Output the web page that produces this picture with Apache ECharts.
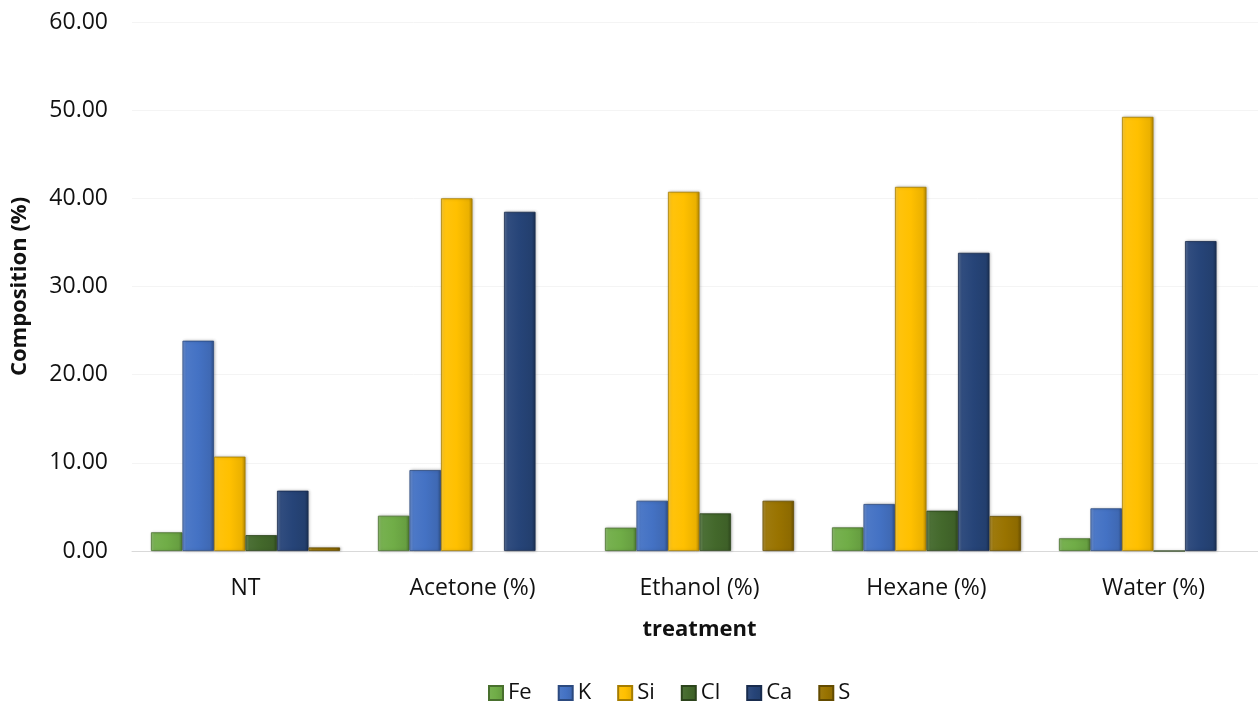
<!DOCTYPE html>
<html>
<head>
<meta charset="utf-8">
<script src="https://cdn.jsdelivr.net/npm/echarts@6/dist/echarts.min.js"></script>
<style>
  html, body { margin: 0; padding: 0; background: #fff; overflow: hidden; }
  #chart { width: 1258px; height: 702px; }
</style>
</head>
<body>
<div id="chart"></div>
<script>
// Elemental composition per treatment
const categories = ['NT', 'Acetone (%)', 'Ethanol (%)', 'Hexane (%)', 'Water (%)'];
const elements = ['Fe', 'K', 'Si', 'Cl', 'Ca', 'S'];

const fe = [2.12, 4.00, 2.64, 2.68, 1.44];
const k  = [23.85, 9.18, 5.70, 5.33, 4.84];
const si = [10.70, 40.00, 40.74, 41.30, 49.24];
const cl = [1.80, null, 4.27, 4.57, 0];
const ca = [6.84, 38.47, null, 33.82, 35.15];
const s  = [0.40, null, 5.70, 3.97, null];

const yTicks = { min: 0, max: 60, interval: 10 };

const seriesValues = [fe, k, si, cl, ca, s];
const baseColors = ['#70AD47', '#4472C4', '#FFC000', '#43682B', '#264478', '#997300'];

function shade(hex, amt) {
  const n = parseInt(hex.slice(1), 16);
  let r = (n >> 16) & 255, g = (n >> 8) & 255, b = n & 255;
  const f = c => Math.max(0, Math.min(255, Math.round(amt >= 0 ? c + (255 - c) * amt : c * (1 + amt))));
  return 'rgb(' + f(r) + ',' + f(g) + ',' + f(b) + ')';
}

// bevelled bar fill: lighter left edge, darker right edge
function bevel(hex) {
  return new echarts.graphic.LinearGradient(0, 0, 1, 0, [
    { offset: 0, color: shade(hex, 0.25) },
    { offset: 0.12, color: shade(hex, 0.05) },
    { offset: 0.5, color: hex },
    { offset: 0.88, color: shade(hex, -0.08) },
    { offset: 1, color: shade(hex, -0.3) }
  ]);
}

const FONT = '"Open Sans", "Liberation Sans", sans-serif';

const chart = echarts.init(document.getElementById('chart'));
chart.setOption({
  animation: false,
  backgroundColor: '#ffffff',
  textStyle: { fontFamily: FONT },
  // plot area runs slightly past the right edge of the canvas
  grid: { left: 132, width: 1135, top: 22, bottom: 151, containLabel: false, outerBoundsMode: 'none' },
  legend: {
    left: 483,
    top: 677,
    itemWidth: 14,
    itemHeight: 14,
    itemGap: 26,
    icon: 'rect',
    textStyle: { fontFamily: FONT, fontSize: 22, color: '#111' },
    data: elements.map((name, i) => ({ name: name, itemStyle: { color: bevel(baseColors[i]) } }))
  },
  xAxis: {
    type: 'category',
    data: categories,
    name: 'treatment',
    nameLocation: 'middle',
    nameGap: 68,
    nameTextStyle: { fontFamily: FONT, fontSize: 22, fontWeight: 'bold', color: '#111' },
    axisLine: { show: true, lineStyle: { color: '#d9d9d9', width: 1 } },
    axisTick: { show: false },
    axisLabel: { fontFamily: FONT, fontSize: 23, color: '#111', margin: 26 },
    splitLine: { show: false }
  },
  yAxis: {
    type: 'value',
    min: yTicks.min,
    max: yTicks.max,
    interval: yTicks.interval,
    name: 'Composition (%)',
    nameLocation: 'middle',
    nameGap: 101,
    nameRotate: 90,
    nameTextStyle: { fontFamily: FONT, fontSize: 22, fontWeight: 'bold', color: '#111' },
    axisLine: { show: false },
    axisTick: { show: false },
    axisLabel: {
      fontFamily: FONT, fontSize: 23, color: '#111', margin: 24,
      formatter: v => v.toFixed(2)
    },
    splitLine: { show: true, lineStyle: { color: '#f4f4f4', width: 1 } }
  },
  series: elements.map((name, i) => ({
    name: name,
    type: 'bar',
    data: seriesValues[i],
    barGap: '0%',
    barCategoryGap: '16.7%',
    itemStyle: {
      color: bevel(baseColors[i]),
      borderColor: shade(baseColors[i], -0.35),
      borderWidth: 0.8,
      shadowColor: 'rgba(0,0,0,0.25)',
      shadowBlur: 3,
      shadowOffsetX: 1,
      shadowOffsetY: 0
    }
  }))
});
</script>
</body>
</html>
